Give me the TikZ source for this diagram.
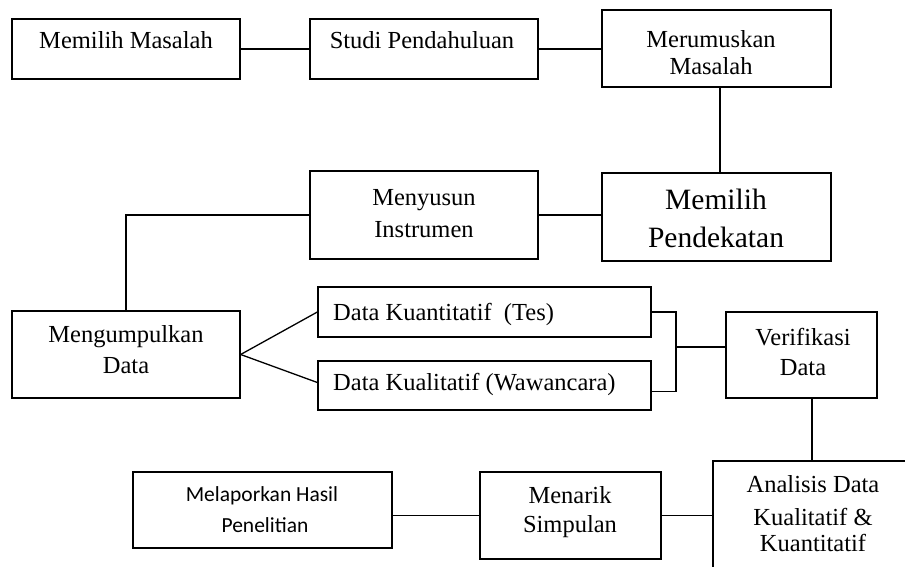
\documentclass[tikz,border=0pt]{standalone}
\usepackage{fontspec}
\setmainfont{Liberation Serif}
\newfontfamily\calib{Carlito}
\begin{document}
\begin{tikzpicture}[x=1pt,y=-1pt,
  box/.style={draw=black, line width=1.3pt, inner sep=0pt, fill=white},
  txt/.style={inner sep=0pt, anchor=base, font=\fontsize{24.5}{29}\selectfont},
  bigtxt/.style={inner sep=0pt, anchor=base, font=\fontsize{29.5}{35}\selectfont},
  sanstxt/.style={inner sep=0pt, anchor=base, font=\calib\fontsize{21.5}{26}\selectfont},
  conn/.style={draw=black, line width=1.3pt}]
\useasboundingbox (0,0) rectangle (905,567);
\clip (0,0) rectangle (905,567);
\fill[white] (0,0) rectangle (905,567);

% boxes
\node[box, minimum width=228pt, minimum height=60pt] (A) at (126,49) {};
\node[box, minimum width=228pt, minimum height=60pt] (B) at (424,49) {};
\node[box, minimum width=229pt, minimum height=77pt] (C) at (716.5,48.5) {};
\node[box, minimum width=229pt, minimum height=88pt] (D) at (716.5,217) {};
\node[box, minimum width=228pt, minimum height=88pt] (E) at (424,215) {};
\node[box, minimum width=228pt, minimum height=87pt] (F) at (126,354.5) {};
\node[box, minimum width=333pt, minimum height=50pt] (G) at (484.5,312) {};
\node[box, minimum width=333pt, minimum height=49pt] (H) at (484.5,385.5) {};
\node[box, minimum width=151pt, minimum height=86pt] (I) at (801.5,355) {};
\node[box, minimum width=210pt, minimum height=140pt] (J) at (818,531) {};
\node[box, minimum width=181pt, minimum height=87pt] (K) at (570.5,515.5) {};
\node[box, minimum width=259pt, minimum height=76pt] (L) at (262.5,510) {};

% texts
\node[txt] (tA) at (126,49) {Memilih Masalah};
\node[txt] (tB) at (422,49) {Studi Pendahuluan};
\node[txt] (tC1) at (711,48) {Merumuskan};
\node[txt] (tC2) at (711,75) {Masalah};
\node[bigtxt] (tD1) at (716,209) {Memilih};
\node[bigtxt] (tD2) at (716,247) {Pendekatan};
\node[txt] (tE1) at (424,205) {Menyusun};
\node[txt] (tE2) at (424,237) {Instrumen};
\node[txt] (tF1) at (126,342) {Mengumpulkan};
\node[txt] (tF2) at (126,373) {Data};
\node[txt, anchor=base west] (tG) at (333,320) {Data Kuantitatif\ \ (Tes)};
\node[txt, anchor=base west] (tH) at (333,390) {Data Kualitatif (Wawancara)};
\node[txt] (tI1) at (803,345) {Verifikasi};
\node[txt] (tI2) at (803,375) {Data};
\node[txt] (tJ1) at (813,492) {Analisis Data};
\node[txt] (tJ2) at (813,525) {Kualitatif \&};
\node[txt] (tJ3) at (813,551) {Kuantitatif};
\node[txt] (tK1) at (570,503) {Menarik};
\node[txt] (tK2) at (570,532) {Simpulan};
\node[sanstxt] (tL1) at (262,501) {Melaporkan Hasil};
\node[sanstxt] (tL2) at (265,532) {Penelitian};

% connectors
\coordinate (c1) at (720,0);
\coordinate (m1) at (676,347);
\coordinate (i1) at (812,0);

\draw[conn] (A.east) -- (B.west);
\draw[conn] (B.east) -- (C.west |- B.east);
\draw[conn] (C.south -| c1) -- (D.north -| c1);
\draw[conn] (D.west |- E.east) -- (E.east);
\draw[conn] (E.west) -| (F.north);
\draw[conn] (F.east) -- (G.west);
\draw[conn] (F.east) -- ([yshift=3pt]H.west);
\draw[conn] (G.east) -| (m1);
\draw[conn] ([yshift=-6pt]H.east) -| (m1);
\draw[conn] (m1) -- (I.west |- m1);
\draw[conn] (I.south -| i1) -- (J.north -| i1);
\draw[conn] (J.west |- K.east) -- (K.east);
\draw[conn] (K.west) -- (L.east |- K.west);
\end{tikzpicture}
\end{document}
